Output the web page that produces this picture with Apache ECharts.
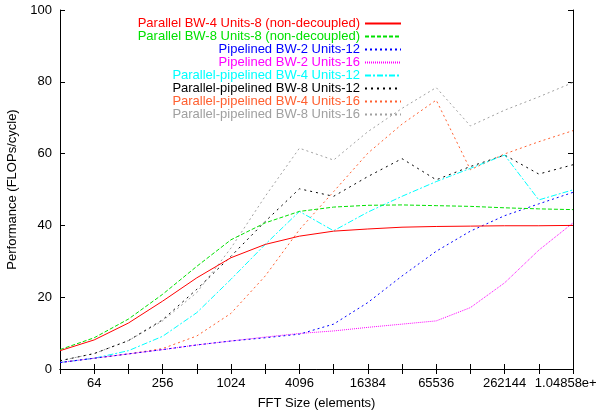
<!DOCTYPE html>
<html>
<head>
<meta charset="utf-8">
<script src="https://cdn.jsdelivr.net/npm/echarts@6/dist/echarts.min.js"></script>
<style>
html, body { margin: 0; padding: 0; background: #fff; }
#chart { width: 597px; height: 417px; }
</style>
</head>
<body>
<div id="chart"></div>
<script>
// FFT sizes, 2^5 .. 2^20
var sizes = [32, 64, 128, 256, 512, 1024, 2048, 4096, 8192, 16384, 32768, 65536, 131072, 262144, 524288, 1048576];

var seriesNames = [
	'Parallel BW-4 Units-8 (non-decoupled)',
	'Parallel BW-8 Units-8 (non-decoupled)',
	'Pipelined BW-2 Units-12',
	'Pipelined BW-2 Units-16',
	'Parallel-pipelined BW-4 Units-12',
	'Parallel-pipelined BW-8 Units-12',
	'Parallel-pipelined BW-4 Units-16',
	'Parallel-pipelined BW-8 Units-16'
];

var par4u8 = [5.1, 8.1, 12.8, 18.9, 25.4, 31.0, 34.7, 37.0, 38.4, 39.0, 39.5, 39.7, 39.8, 39.9, 39.9, 40.0];
var par8u8 = [5.4, 8.7, 13.9, 20.8, 28.6, 36.0, 40.7, 43.9, 45.1, 45.6, 45.7, 45.5, 45.3, 44.9, 44.6, 44.4];
var pip2u12 = [1.8, 3.0, 4.2, 5.4, 6.7, 7.8, 8.7, 9.7, 12.5, 18.5, 25.9, 32.8, 38.4, 42.7, 46.0, 49.2];
var pip2u16 = [1.8, 3.0, 4.2, 5.4, 6.7, 7.8, 8.9, 9.9, 10.6, 11.6, 12.5, 13.4, 17.1, 24.0, 33.1, 40.7];
var pp4u12 = [1.8, 3.0, 5.1, 9.1, 15.7, 25.0, 34.7, 43.9, 38.5, 43.7, 48.1, 52.2, 55.9, 59.6, 47.1, 49.9];
var pp8u12 = [2.3, 4.3, 7.9, 13.7, 22.2, 31.4, 41.1, 50.2, 48.1, 53.6, 58.6, 52.7, 56.4, 59.6, 54.3, 56.9];
var pp4u16 = [1.8, 3.0, 4.2, 5.7, 9.2, 15.5, 25.9, 38.8, 49.4, 60.1, 68.2, 74.9, 55.5, 59.9, 63.3, 66.4];
var pp8u16 = [2.3, 4.3, 7.9, 13.4, 21.3, 33.7, 48.1, 61.5, 58.2, 66.1, 72.6, 78.4, 67.7, 72.1, 75.8, 79.8];

var allData = [par4u8, par8u8, pip2u12, pip2u16, pp4u12, pp8u12, pp4u16, pp8u16];
var colors = ['#ff0000', '#00e000', '#0000ff', '#ff00ff', '#00ffff', '#000000', '#ff6030', '#a0a0a0'];
var dashes = ['solid', [4, 2], [2, 3], [1, 1], [6, 2, 2, 2], [2, 4], [2, 3], [2, 3]];

var font = 'Liberation Sans, Arial, sans-serif';

// gnuplot style tick label
function sizeLabel(v) {
	var n = Number(v);
	if (n >= 1e6) {
		return n.toPrecision(6).replace(/e\+(\d)$/, 'e+0$1');
	}
	return String(n);
}

var chart = echarts.init(document.getElementById('chart'));

var series = [];
var legendData = [];
for (var i = 0; i < seriesNames.length; i++) {
	series.push({
		name: seriesNames[i],
		type: 'line',
		data: allData[i],
		showSymbol: false,
		symbol: 'none',
		silent: true,
		lineStyle: { color: colors[i], width: 1, type: dashes[i] },
		itemStyle: { color: colors[i] },
		z: 10 - i
	});
	legendData.push({ name: seriesNames[i], textStyle: { color: colors[i] } });
}

var tickStyle = { show: true, inside: true, length: 5, interval: 0, lineStyle: { color: '#000', width: 1 } };

chart.setOption({
	animation: false,
	color: colors,
	grid: { left: 60, right: 24, top: 10, bottom: 48, outerBoundsMode: 'none', containLabel: false },
	legend: {
		data: legendData,
		orient: 'vertical',
		align: 'right',
		right: 190,
		top: 12,
		itemWidth: 36,
		itemHeight: 10,
		itemGap: 0,
		selectedMode: false,
		itemStyle: { color: 'rgba(0,0,0,0)', borderWidth: 0 },
		textStyle: { fontFamily: font, fontSize: 13, lineHeight: 13 }
	},
	xAxis: [{
		type: 'category',
		data: sizes,
		boundaryGap: false,
		name: 'FFT Size (elements)',
		nameLocation: 'middle',
		nameGap: 28,
		nameTextStyle: { fontFamily: font, fontSize: 13, color: '#000' },
		axisLine: { lineStyle: { color: '#000', width: 1 } },
		axisTick: tickStyle,
		axisLabel: {
			interval: function(index) { return index % 2 === 1; },
			formatter: sizeLabel,
			fontFamily: font, fontSize: 13, color: '#000', margin: 8
		},
		splitLine: { show: false }
	}, {
		type: 'category',
		data: sizes,
		boundaryGap: false,
		position: 'top',
		axisLine: { lineStyle: { color: '#000', width: 1 } },
		axisTick: tickStyle,
		axisLabel: { show: false },
		splitLine: { show: false }
	}],
	yAxis: [{
		type: 'value',
		min: 0,
		max: 100,
		interval: 20,
		name: 'Performance (FLOPs/cycle)',
		nameLocation: 'middle',
		nameGap: 39,
		nameTextStyle: { fontFamily: font, fontSize: 13, color: '#000' },
		axisLine: { show: true, lineStyle: { color: '#000', width: 1 } },
		axisTick: { show: true, inside: true, length: 5, lineStyle: { color: '#000' } },
		axisLabel: { fontFamily: font, fontSize: 13, color: '#000', margin: 8 },
		splitLine: { show: false }
	}, {
		type: 'value',
		min: 0,
		max: 100,
		interval: 20,
		position: 'right',
		axisLine: { show: true, lineStyle: { color: '#000', width: 1 } },
		axisTick: { show: true, inside: true, length: 5, lineStyle: { color: '#000' } },
		axisLabel: { show: false },
		splitLine: { show: false }
	}],
	series: series
});
</script>
</body>
</html>
